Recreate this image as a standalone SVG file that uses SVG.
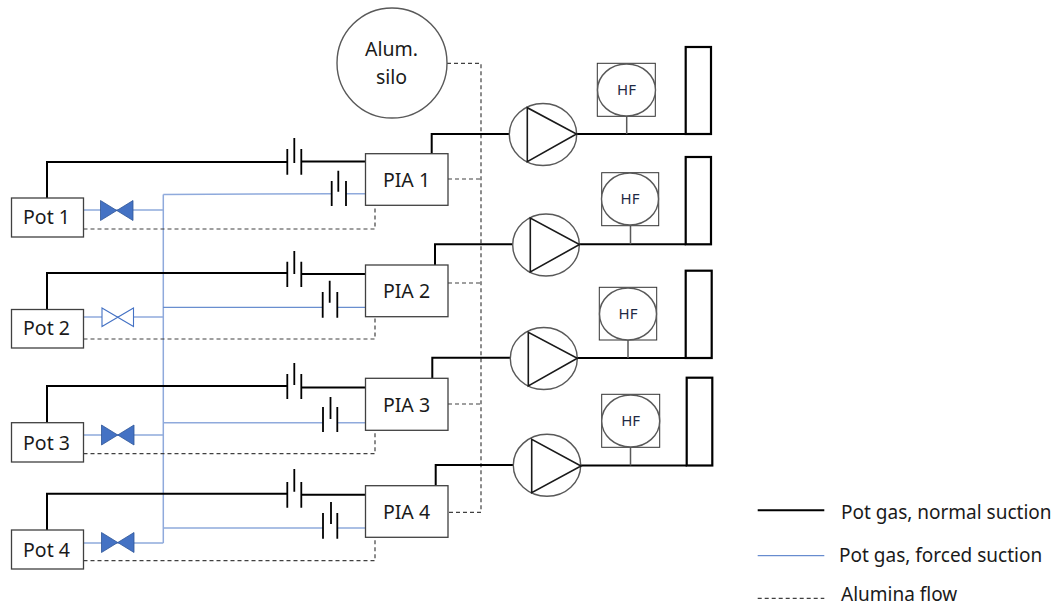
<svg xmlns="http://www.w3.org/2000/svg" width="1056" height="606" viewBox="0 0 1056 606">
<style>
text{font-family:"Noto Sans","Open Sans","Liberation Sans",sans-serif;fill:#1a1a1a}
.box{fill:#fff;stroke:#404040;stroke-width:1.3}
.lbl{font-size:19.5px;text-anchor:middle}
.hf{font-size:15px;text-anchor:middle;fill:#1f2a44}
.leg{font-size:19px}
.n,.plate{fill:none;stroke:#000;stroke-width:2}
.plate{stroke-width:1.8}
.f{fill:none;stroke:#8faadc;stroke-width:1.5}
.f2{fill:none;stroke:#4472c4;stroke-width:1}
.d{fill:none;stroke:#404040;stroke-width:1.2;stroke-dasharray:4 3}
.circ{fill:#fff;stroke:#595959;stroke-width:1.4}
.tri{fill:none;stroke:#1a1a1a;stroke-width:1.6;stroke-linejoin:miter}
.stem{fill:none;stroke:#595959;stroke-width:1.5}
.hfb{fill:#fff;stroke:#333;stroke-width:1}
.stack{fill:#fff;stroke:#000;stroke-width:2.2}
.vf{fill:#4472c4;stroke:#2f5597;stroke-width:.8}
.vo{fill:#fff;stroke:#4472c4;stroke-width:1.1}
</style>
<g id="connectors">
<path class="f" d="M163.3 194.5V543"/>
<path class="f" d="M83.5 210H163.3M163.3 194.5L331.7 193.8M346 193.8H365.5"/>
<path class="f" d="M83.5 317H163.3"/>
<path class="f2" d="M163.3 307.3H322.7M337.3 307.3H365.5"/>
<path class="f" d="M83.5 435H163.3M163.3 422.7H323M337.3 422.7H365.5"/>
<path class="f" d="M83.5 543H163.3M163.3 528H323M337.3 528H365.5"/>
<path class="n" d="M47 198V162H287.3M301.3 161.5H365.5"/>
<path class="n" d="M47 309.5V273H287.3M301.3 274H365.5"/>
<path class="n" d="M47 422.7V386H287.3M301.3 387.5H365.5"/>
<path class="n" d="M47 530V493.7H287.3M301.3 494.7H365.5"/>
<path class="d" d="M83.5 229H375V205.3M83.5 339H375V316.7M83.5 453.7H375V430.3M83.5 560.7H375V537.3"/>
<path class="d" d="M447 63.3H481V512.3H448M448 179H481M448 283H481M448 404H481"/>
<path class="n" d="M431.7 153.7V134H509.3M435 265V244.3H512.7M432.3 378.3V357.7H510.3M435.7 485.7V465H513.3"/>
<path class="n" d="M576 134H686M579 244.3H686M577 358H686M581 465.5H687"/>
<path class="stem" d="M626.7 116.3V134M630.5 225.7V244.3M628 340V358M630.5 447.3V465.5"/>
<g id="restrictions">
<path class="plate" d="M287.3 149V174.7M301.3 149V174.7M294.3 138V163"/>
<path class="plate" d="M331.7 181V206M346 181V206M338.3 170.7V191.7"/>
<path class="plate" d="M287.3 261.7V287M301.3 261.7V287M294.3 251V274"/>
<path class="plate" d="M322.7 292V317.7M337.3 292V317.7M329.7 280.7V302.7"/>
<path class="plate" d="M287.3 374V399M301.3 374V399M294.3 363V385"/>
<path class="plate" d="M323 407V432M337.3 407V432M330.5 397V419"/>
<path class="plate" d="M287.3 482V507.7M301.3 482V507.7M294.3 469V491.7"/>
<path class="plate" d="M323 513V538.7M337.3 513V538.7M331 502V524"/>
</g>
</g>
<g id="valve1"><path class="vf" d="M100.5 200.5L133 220.5V200.5L100.5 220.5Z"/></g>
<g id="valve2"><path class="vo" d="M102 308L133.5 326.5V308L102 326.5Z"/></g>
<g id="valve3"><path class="vf" d="M101.5 425L134 445V425L101.5 445Z"/></g>
<g id="valve4"><path class="vf" d="M101.5 532.5L134 552.5V532.5L101.5 552.5Z"/></g>
<g id="pot1"><rect class="box" x="11.5" y="198" width="72" height="39"/><text class="lbl" x="46.5" y="223.5">Pot 1</text></g>
<g id="pot2"><rect class="box" x="11.5" y="309.5" width="72" height="38.5"/><text class="lbl" x="46.5" y="335">Pot 2</text></g>
<g id="pot3"><rect class="box" x="11.5" y="422.7" width="72" height="39.3"/><text class="lbl" x="46.5" y="449.5">Pot 3</text></g>
<g id="pot4"><rect class="box" x="11.5" y="530" width="72" height="39"/><text class="lbl" x="46.5" y="556.5">Pot 4</text></g>
<g id="pia1"><rect class="box" x="365.5" y="153.7" width="82.5" height="51.6"/><text class="lbl" x="406.5" y="187">PIA 1</text></g>
<g id="pia2"><rect class="box" x="365.5" y="265" width="82.5" height="51.7"/><text class="lbl" x="406.5" y="298">PIA 2</text></g>
<g id="pia3"><rect class="box" x="365.5" y="378.3" width="82.5" height="52"/><text class="lbl" x="406.5" y="411.5">PIA 3</text></g>
<g id="pia4"><rect class="box" x="365.5" y="485.7" width="82.5" height="51.6"/><text class="lbl" x="406.5" y="519">PIA 4</text></g>
<g id="silo"><circle class="circ" cx="392" cy="63" r="55"/><text class="lbl" x="391.5" y="56">Alum.</text><text class="lbl" x="391.5" y="84">silo</text></g>
<g id="pump1"><ellipse class="circ" cx="543" cy="134.5" rx="33.7" ry="31"/><path class="tri" d="M527.3 107.7V161.7L576.5 134Z"/></g>
<g id="pump2"><ellipse class="circ" cx="546" cy="245" rx="33.3" ry="31"/><path class="tri" d="M530.3 218V272L579.5 244.5Z"/></g>
<g id="pump3"><ellipse class="circ" cx="543.8" cy="358.5" rx="33.5" ry="31"/><path class="tri" d="M528.3 332.3V386L577.3 358.3Z"/></g>
<g id="pump4"><ellipse class="circ" cx="547" cy="465.3" rx="33.7" ry="31"/><path class="tri" d="M531.7 439.3V492.7L581 466Z"/></g>
<g id="hf1"><rect class="hfb" x="597.3" y="63.3" width="58" height="53"/><ellipse class="circ" cx="626.5" cy="90" rx="29" ry="26"/><text class="hf" x="626.5" y="95">HF</text></g>
<g id="hf2"><rect class="hfb" x="601.7" y="172.7" width="57" height="53"/><ellipse class="circ" cx="630" cy="199" rx="28.5" ry="26"/><text class="hf" x="630" y="204">HF</text></g>
<g id="hf3"><rect class="hfb" x="599.3" y="287.3" width="57.4" height="52.7"/><ellipse class="circ" cx="628" cy="314" rx="28.5" ry="26"/><text class="hf" x="628" y="319">HF</text></g>
<g id="hf4"><rect class="hfb" x="601.7" y="394.3" width="58" height="53"/><ellipse class="circ" cx="630.7" cy="421" rx="29" ry="26"/><text class="hf" x="630.7" y="426">HF</text></g>
<g id="stack1"><rect class="stack" x="685.7" y="47" width="25.3" height="87"/></g>
<g id="stack2"><rect class="stack" x="685.7" y="157" width="25.3" height="87.3"/></g>
<g id="stack3"><rect class="stack" x="685.7" y="270.7" width="26" height="87.3"/></g>
<g id="stack4"><rect class="stack" x="686.7" y="377.7" width="25.6" height="87.8"/></g>
<g id="legend">
<path class="n" d="M757.7 510.3H824.3"/>
<path class="f2" d="M757.7 555.7H824.3"/>
<path class="d" d="M757.7 598.3H824.3"/>
<text class="leg" x="841" y="518.5">Pot gas, normal suction</text>
<text class="leg" x="839" y="562">Pot gas, forced suction</text>
<text class="leg" x="841" y="600.5">Alumina flow</text>
</g>
</svg>
